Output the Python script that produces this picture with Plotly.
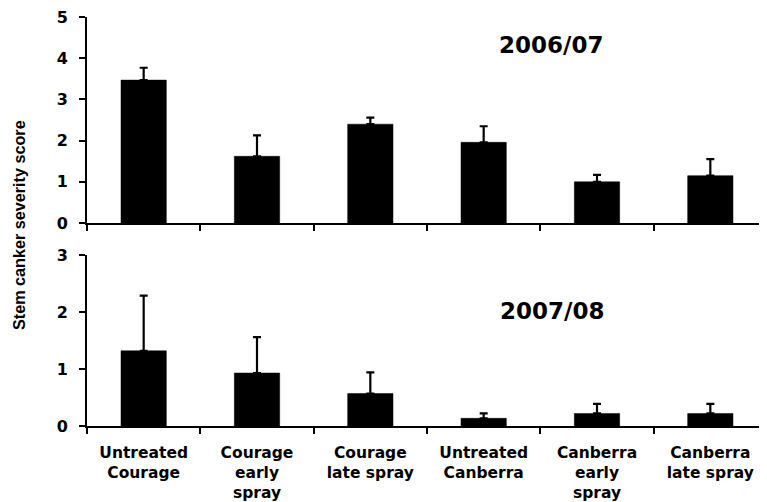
import plotly.graph_objects as go

# ---- data ----
categories = ["Untreated<br>Courage", "Courage<br>early<br>spray", "Courage<br>late spray",
              "Untreated<br>Canberra", "Canberra<br>early<br>spray", "Canberra<br>late spray"]
mean_2006 = [3.47, 1.62, 2.40, 1.96, 1.00, 1.15]
err_2006 = [0.30, 0.51, 0.16, 0.39, 0.17, 0.40]
mean_2007 = [1.32, 0.93, 0.57, 0.135, 0.22, 0.22]
err_2007 = [0.97, 0.63, 0.37, 0.085, 0.17, 0.17]
ticks_top = [0, 1, 2, 3, 4, 5]
ticks_bottom = [0, 1, 2, 3]
panel_titles = ["2006/07", "2007/08"]
y_title = "Stem canker severity score"

# page body has an 8px default margin, so the figure is offset by 8px
OFF = 8
W, H = 767 - OFF, 502 - OFF
FONT = "DejaVu Sans, Arial, sans-serif"


def px(x):
    return (x - OFF) / W


def py(y):
    return 1 - (y - OFF) / H


fig = go.Figure()
for means, errs, xa, ya in [(mean_2006, err_2006, "x", "y"), (mean_2007, err_2007, "x2", "y2")]:
    fig.add_trace(go.Bar(
        x=categories, y=means, xaxis=xa, yaxis=ya, width=0.4,
        marker=dict(color="black", line=dict(color="black", width=0.5)),
        error_y=dict(type="data", symmetric=False, array=errs, arrayminus=[0] * len(errs),
                     color="black", thickness=2.2, width=4),
        showlegend=False,
    ))

xdom = [px(87), 1.0]
common_x = dict(type="category", tickson="boundaries", ticks="outside", ticklen=6, tickwidth=2,
                tickcolor="black", showline=True, linecolor="black", linewidth=2,
                showgrid=False, zeroline=False, range=[-0.5, 5.5], domain=xdom,
                automargin=False, ticklabeloverflow="allow",
                tickfont=dict(family=FONT, size=15.5, color="black"))
common_y = dict(ticks="outside", ticklen=6, tickwidth=2, tickcolor="black", showline=True,
                linecolor="black", linewidth=2, showgrid=False, zeroline=False,
                ticklabelstandoff=8, automargin=False, ticklabeloverflow="allow",
                tickfont=dict(family=FONT, size=16, color="black"))

fig.update_layout(
    width=W, height=H, margin=dict(l=0, r=0, t=0, b=0, autoexpand=False),
    paper_bgcolor="white", plot_bgcolor="white",
    font=dict(family=FONT, color="black"),
    xaxis=dict(**common_x, anchor="y", showticklabels=False),
    yaxis=dict(**common_y, anchor="x", domain=[py(223), py(17)], range=[0, 5.003],
               tickmode="array", tickvals=ticks_top, ticktext=[f"<b>{t}</b>" for t in ticks_top]),
    xaxis2=dict(**common_x, anchor="y2", ticklabelstandoff=11,
                tickvals=categories, ticktext=[f"<b>{c}</b>" for c in categories]),
    yaxis2=dict(**common_y, anchor="x2", domain=[py(426), py(255)], range=[0, 3.002],
                tickmode="array", tickvals=ticks_bottom, ticktext=[f"<b>{t}</b>" for t in ticks_bottom]),
)

fig.add_annotation(x=px(551), y=py(45), xref="paper", yref="paper", showarrow=False,
                   xanchor="center", yanchor="middle",
                   text=f"<b>{panel_titles[0]}</b>", font=dict(family=FONT, size=23, color="black"))
fig.add_annotation(x=px(552), y=py(311), xref="paper", yref="paper", showarrow=False,
                   xanchor="center", yanchor="middle",
                   text=f"<b>{panel_titles[1]}</b>", font=dict(family=FONT, size=23, color="black"))
fig.add_annotation(x=px(19), y=py(225), xref="paper", yref="paper", showarrow=False,
                   xanchor="center", yanchor="middle",
                   textangle=-90, text=f"<b>{y_title}</b>",
                   font=dict(family="Liberation Sans, Arial, sans-serif", size=16.2, color="black"))

fig.write_html("out.html")
